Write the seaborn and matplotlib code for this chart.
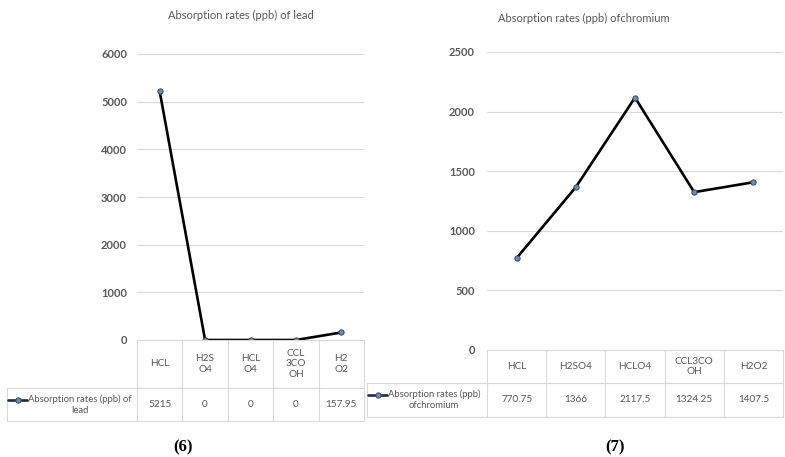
"""Two line charts with a data table below each: absorption rates of lead and chromium."""

import matplotlib.pyplot as plt
from matplotlib.lines import Line2D
import seaborn as sns

W, H = 785, 457

lead_cats = ["HCL", "H2S\nO4", "HCL\nO4", "CCL\n3CO\nOH", "H2\nO2"]
lead_vals = [5215, 0, 0, 0, 157.95]
lead_ticks = [0, 1000, 2000, 3000, 4000, 5000, 6000]
lead_title = "Absorption rates (ppb) of lead"
lead_label = "Absorption rates (ppb) of\nlead"

chrom_cats = ["HCL", "H2SO4", "HCLO4", "CCL3CO\nOH", "H2O2"]
chrom_vals = [770.75, 1366, 2117.5, 1324.25, 1407.5]
chrom_ticks = [0, 500, 1000, 1500, 2000, 2500]
chrom_title = "Absorption rates (ppb) ofchromium"
chrom_label = "Absorption rates (ppb)\nofchromium"

GREY = "#595959"
GRID = "#d9d9d9"
MARK = dict(marker="o", markerfacecolor="#6b8cb3", markeredgecolor="#2f4a6a",
            markeredgewidth=0.7)


def fx(x):
    return x / W


def fy(y):
    return 1 - y / H


def hline(fig, x0, x1, y):
    fig.add_artist(Line2D([fx(x0), fx(x1)], [fy(y), fy(y)],
                          transform=fig.transFigure, color=GRID, lw=0.8))


def vline(fig, x, y0, y1):
    fig.add_artist(Line2D([fx(x), fx(x)], [fy(y0), fy(y1)],
                          transform=fig.transFigure, color=GRID, lw=0.8))


def panel(fig, box, cats, vals, ticks, title, title_xy, label, leg_x0,
          hdr_h, row_h, pad, tag, tag_xy):
    left, top, right, bottom = box
    ax = fig.add_axes([fx(left), fy(bottom), fx(right - left),
                       (bottom - top) / H])
    sns.lineplot(x=cats, y=vals, ax=ax, sort=False, color="black",
                 linewidth=1.9, markersize=3.8, **MARK)
    ax.set_xlim(-0.5, len(cats) - 0.5)
    ax.set_ylim(ticks[0], ticks[-1])
    ax.set_yticks(ticks)
    ax.yaxis.grid(True, color=GRID, linewidth=0.8)
    ax.xaxis.grid(False)
    ax.set_axisbelow(True)
    ax.tick_params(axis="y", length=0, pad=pad, labelsize=8, labelcolor=GREY)
    ax.tick_params(axis="x", length=0, labelbottom=False)
    for t in ax.get_yticklabels():
        t.set_fontweight("bold")
    ax.set_xlabel("")
    ax.set_ylabel("")
    sns.despine(ax=ax, left=True, bottom=True)

    fig.text(fx(title_xy[0]), fy(title_xy[1]), title, ha="center",
             va="center", fontsize=8, color=GREY)

    # data table under the plot
    colw = (right - left) / len(cats)
    y_hdr = bottom + hdr_h
    y_end = y_hdr + row_h
    hline(fig, left, right, bottom)
    hline(fig, leg_x0, right, y_hdr)
    hline(fig, leg_x0, right, y_end)
    vline(fig, leg_x0, y_hdr, y_end)
    for k in range(len(cats) + 1):
        vline(fig, left + k * colw, bottom, y_end)
    for i, (c, v) in enumerate(zip(cats, vals)):
        xc = left + (i + 0.5) * colw
        fig.text(fx(xc), fy(bottom + hdr_h / 2), c, ha="center", va="center",
                 fontsize=7.2, color=GREY, linespacing=1.25)
        fig.text(fx(xc), fy(y_hdr + row_h / 2), f"{v:g}", ha="center",
                 va="center", fontsize=7.2, color=GREY)

    # legend key in the row header
    ym = y_hdr + row_h / 2 - 5
    fig.add_artist(Line2D([fx(leg_x0 + 1), fx(leg_x0 + 20)], [fy(ym), fy(ym)],
                          transform=fig.transFigure, color="#1f2d3d",
                          linewidth=1.9))
    fig.add_artist(Line2D([fx(leg_x0 + 10.5)], [fy(ym)],
                          transform=fig.transFigure, linestyle="none",
                          markersize=3.8, **MARK))
    fig.text(fx(leg_x0 + 21), fy(y_hdr + row_h / 2), label,
             ha="left", va="center", multialignment="center",
             fontsize=6.8, color=GREY, linespacing=1.35)

    fig.text(fx(tag_xy[0]), fy(tag_xy[1]), tag, ha="center", va="center",
             fontsize=12, fontweight="bold", family="Liberation Serif",
             color="black")
    return ax


sns.set_style("white")
plt.rcParams["font.family"] = ["Lato", "DejaVu Sans"]

fig = plt.figure(figsize=(W / 100, H / 100), dpi=100)

panel(fig, (137, 54, 364, 340), lead_cats, lead_vals, lead_ticks,
      lead_title, (241, 15), lead_label, 7, 48, 33, 7.2, "(6)", (183, 447))
panel(fig, (487, 52, 783, 350), chrom_cats, chrom_vals, chrom_ticks,
      chrom_title, (584, 18), chrom_label, 367, 33, 34, 8.6, "(7)", (615, 447))

fig.savefig("out.png", dpi=100)
plt.close(fig)
